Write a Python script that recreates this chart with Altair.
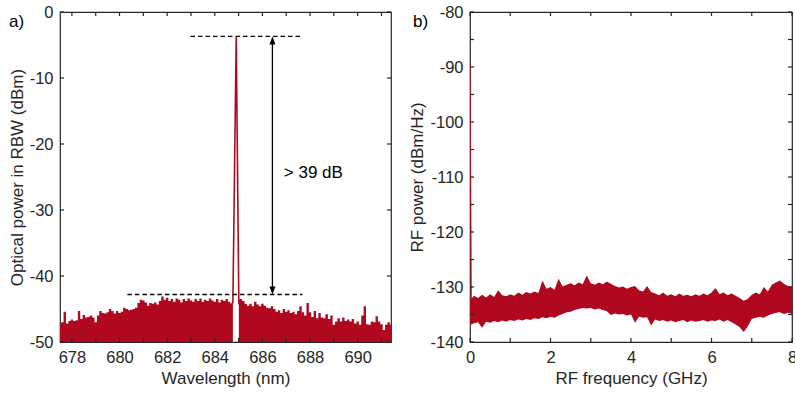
import altair as alt
import pandas as pd

RED = "#b0081f"
AX = "#262626"
FONT = "Liberation Sans"

# ---------------- panel a) optical spectrum ----------------
wl_left_start = 677.5   # 0.1 nm grid
power_left = [
    -47.2, -47.0, -45.4, -47.2, -46.8, -46.6, -46.8, -46.7, -45.3, -46.5,
    -45.9, -46.3, -46.2, -46.0, -46.3, -47.0, -46.0, -45.3, -45.6, -45.7,
    -45.5, -45.0, -45.3, -45.7, -45.3, -45.6, -45.4, -44.8, -45.0, -45.2,
    -45.1, -45.0, -44.8, -44.1, -43.6, -43.7, -44.0, -44.5, -44.1, -44.2,
    -44.0, -44.3, -43.8, -43.1, -43.6, -43.3, -43.8, -43.5, -43.9, -43.4,
    -43.6, -44.0, -43.5, -43.8, -43.4, -43.7, -43.9, -43.5, -43.8, -43.4,
    -43.9, -43.6, -43.8, -43.4, -43.7, -43.9, -43.5, -44.0, -43.6, -43.8,
    -43.5, -43.9, -44.2,
]
wl_right_start = 685.1
power_right = [
    -43.5, -43.8, -44.2, -44.5, -44.2, -44.6, -43.9, -44.3, -44.6, -44.2,
    -44.5, -44.8, -44.9, -44.6, -45.0, -45.4, -45.2, -45.6, -45.0, -45.4,
    -45.2, -45.6, -45.4, -45.8, -45.3, -44.6, -45.5, -46.0, -44.1, -45.5,
    -46.2, -45.3, -46.4, -45.6, -46.3, -46.4, -45.8, -46.5, -46.0, -47.4,
    -46.9, -46.4, -46.9, -46.3, -46.8, -46.6, -46.9, -46.5, -47.2, -46.9,
    -47.4, -46.0, -44.6, -47.3, -47.4, -46.9, -47.0, -46.1, -46.9, -47.3,
    -48.2, -47.4, -47.0, -47.4,
]
notch_wl = [684.76, 685.01]
notch_power = [-44.0, -44.0]
peak_wl = [684.70, 684.76, 684.90, 685.01, 685.10]
peak_power = [-44.2, -44.0, -3.8, -44.0, -43.5]

dash_start = [682.98, 680.33]
dash_end = [687.68, 687.68]
dash_level = [-3.7, -42.8]
arrow_wl = [686.42]
arrow_top = [-3.7]
arrow_bottom = [-42.8]
label_text = ["> 39 dB"]
label_wl = [686.9]
label_power = [-24.4]

xticks_a = list(range(678, 692))
xlabels_a = [678, 680, 682, 684, 686, 688, 690]
yticks_a = [-50, -40, -30, -20, -10, 0]

# ---------------- panel b) RF spectrum ----------------
freq_step = 0.1
rf_upper = [
    -132.4, -131.6, -132.0, -131.4, -131.9, -131.3, -131.8, -130.6, -131.5, -131.7,
    -131.3, -131.6, -131.0, -131.4, -130.9, -131.2, -130.8, -131.1, -128.8, -130.3,
    -130.0, -130.5, -128.5, -129.9, -129.6, -129.3, -129.7, -129.2, -129.5, -127.9,
    -129.3, -129.6, -129.2, -129.5, -129.0, -129.4, -129.8, -130.1, -129.9, -130.3,
    -130.0, -129.8, -130.6, -130.8, -129.8, -130.9, -131.2, -131.5, -131.0, -131.6,
    -131.3, -131.7, -131.2, -131.6, -131.4, -131.7, -131.3, -131.6, -131.2, -131.5,
    -131.0, -130.2, -131.3, -131.0, -131.5, -131.2, -131.6, -132.0, -132.5, -132.2,
    -131.4, -131.0, -131.3, -130.0, -130.8, -129.6, -129.2, -128.8, -129.4, -129.8,
    -130.0,
]
rf_lower = [
    -136.9, -136.6, -136.4, -137.4, -136.3, -136.5, -136.2, -136.4, -136.1, -136.3,
    -136.0, -136.2, -135.9, -136.1, -135.8, -136.0, -135.7, -135.8, -135.5, -135.7,
    -135.4, -135.6, -135.2, -134.9, -134.6, -134.5, -134.2, -134.0, -133.8, -133.9,
    -133.8, -134.1, -133.9, -134.2, -134.4, -135.1, -134.8, -135.0, -134.9, -135.2,
    -135.0, -136.5, -135.4, -135.6, -135.5, -137.0, -135.9, -136.2, -136.0, -136.3,
    -136.1, -136.4, -136.2, -136.0, -136.4, -136.1, -136.3, -136.2, -136.0, -136.3,
    -136.1, -136.2, -135.9, -136.3, -136.0, -136.4, -136.8, -137.3, -138.2, -137.2,
    -135.8, -135.6, -135.4, -135.6, -135.2, -134.9, -134.7, -134.6, -134.9, -134.7,
    -134.9,
]
dc_freq = [0.0, 0.03]
dc_power = [-89.5, -133.0]

xticks_b = list(range(0, 9))
xlabels_b = [0, 2, 4, 6, 8]
yticks_b = list(range(-140, -79, 5))
ylabels_b = [-140, -130, -120, -110, -100, -90, -80]

W1, W2, H = 331, 322, 330
TICK = 4

# ---------------- build tables ----------------
wl_l = [round(wl_left_start + 0.1 * i, 2) for i in range(len(power_left))] + [notch_wl[0]]
p_l = power_left + [notch_power[0]]
wl_r = [notch_wl[1]] + [round(wl_right_start + 0.1 * i, 2) for i in range(len(power_right))]
p_r = [notch_power[1]] + power_right
df_noise = pd.DataFrame({
    "wl": wl_l + wl_r,
    "p": p_l + p_r,
    "seg": ["L"] * len(wl_l) + ["R"] * len(wl_r),
})
df_peak = pd.DataFrame({"wl": peak_wl, "p": peak_power})
df_dash = pd.DataFrame({"wl": dash_start, "wl2": dash_end, "p": dash_level})
df_arrow = pd.DataFrame({"wl": arrow_wl, "p": [arrow_top[0] - 0.8], "p2": [arrow_bottom[0] + 0.8]})
df_head_top = pd.DataFrame({"wl": arrow_wl, "p": arrow_top})
df_head_bot = pd.DataFrame({"wl": arrow_wl, "p": arrow_bottom})
df_label = pd.DataFrame({"wl": label_wl, "p": label_power, "t": label_text})
df_xt_a = pd.DataFrame({"wl": xticks_a})
df_yt_a = pd.DataFrame({"p": yticks_a})

freqs = [round(freq_step * i, 2) for i in range(len(rf_upper))]
df_rf = pd.DataFrame({"f": freqs, "p": rf_upper, "p2": rf_lower})
df_dc = pd.DataFrame({"f": dc_freq, "p": dc_power})
df_xt_b = pd.DataFrame({"f": xticks_b})
df_yt_b = pd.DataFrame({"p": yticks_b})


def tick_layers(dfx, xf, dfy, yf, W):
    base_x = alt.Chart(dfx).mark_rule(color=AX, strokeWidth=1.2)
    base_y = alt.Chart(dfy).mark_rule(color=AX, strokeWidth=1.2)
    return [
        base_x.encode(x=alt.X(f"{xf}:Q"), y=alt.value(H), y2=alt.value(H - TICK)),
        base_x.encode(x=alt.X(f"{xf}:Q"), y=alt.value(0), y2=alt.value(TICK)),
        base_y.encode(y=alt.Y(f"{yf}:Q"), x=alt.value(0), x2=alt.value(TICK)),
        base_y.encode(y=alt.Y(f"{yf}:Q"), x=alt.value(W), x2=alt.value(W - TICK)),
    ]


def panel_label(txt, dx):
    return alt.Chart(pd.DataFrame({"t": [txt]})).mark_text(
        align="left", baseline="middle", font=FONT, fontSize=17, color="black"
    ).encode(x=alt.value(dx), y=alt.value(10), text="t:N")


lab = "'' + datum.value"

# ---------------- panel a ----------------
xa = alt.X("wl:Q", scale=alt.Scale(domain=[677.5, 691.4], nice=False, zero=False),
           axis=alt.Axis(values=xlabels_a, title="Wavelength (nm)", labelExpr=lab,
                         tickSize=0, labelPadding=7, titlePadding=5))
ya = alt.Y("p:Q", scale=alt.Scale(domain=[-50, 0], nice=False, zero=False),
           axis=alt.Axis(values=yticks_a, title="Optical power in RBW (dBm)", labelExpr=lab,
                         tickSize=0, labelPadding=7, titlePadding=3))

noise = alt.Chart(df_noise).mark_area(color=RED, opacity=1, clip=True, interpolate="step").encode(
    x=xa, y=ya, y2=alt.datum(-50), detail="seg:N")
peak = alt.Chart(df_peak).mark_line(color=RED, strokeWidth=1.6, clip=True).encode(
    x="wl:Q", y="p:Q")
dashes = alt.Chart(df_dash).mark_rule(color="black", strokeWidth=1.3, strokeDash=[4.5, 3]).encode(
    x="wl:Q", x2="wl2:Q", y="p:Q")
shaft = alt.Chart(df_arrow).mark_rule(color="black", strokeWidth=1.3).encode(
    x="wl:Q", y="p:Q", y2="p2:Q")
head_top = alt.Chart(df_head_top).mark_point(
    shape="M0,-1L0.75,1L-0.75,1Z", filled=True, color="black", opacity=1, size=64, yOffset=4
).encode(x="wl:Q", y="p:Q")
head_bot = alt.Chart(df_head_bot).mark_point(
    shape="M0,1L0.75,-1L-0.75,-1Z", filled=True, color="black", opacity=1, size=64, yOffset=-4
).encode(x="wl:Q", y="p:Q")
label = alt.Chart(df_label).mark_text(
    align="left", baseline="middle", font=FONT, fontSize=17, color="black"
).encode(x="wl:Q", y="p:Q", text="t:N")

left = alt.layer(
    noise, peak, dashes, shaft, head_top, head_bot, label,
    *tick_layers(df_xt_a, "wl", df_yt_a, "p", W1),
    panel_label("a)", -51),
).properties(width=W1, height=H)

# ---------------- panel b ----------------
xb = alt.X("f:Q", scale=alt.Scale(domain=[0, 8], nice=False, zero=False),
           axis=alt.Axis(values=xlabels_b, title="RF frequency (GHz)", labelExpr=lab,
                         tickSize=0, labelPadding=7, titlePadding=5))
yb = alt.Y("p:Q", scale=alt.Scale(domain=[-140, -80], nice=False, zero=False),
           axis=alt.Axis(values=ylabels_b, title="RF power (dBm/Hz)", labelExpr=lab,
                         tickSize=0, labelPadding=7, titlePadding=3))

band = alt.Chart(df_rf).mark_area(color=RED, opacity=1, clip=True).encode(
    x=xb, y=yb, y2="p2:Q")
dc = alt.Chart(df_dc).mark_line(color=RED, strokeWidth=1.2, clip=True).encode(
    x="f:Q", y="p:Q")

right = alt.layer(
    band, dc,
    *tick_layers(df_xt_b, "f", df_yt_b, "p", W2),
    panel_label("b)", -57),
).properties(width=W2, height=H)

chart = alt.hconcat(left, right, spacing=79, bounds="flush").properties(
    padding={"left": 60, "top": 12, "right": 735, "bottom": 381},
    autosize=alt.AutoSizeParams(type="none"),
).configure_view(
    stroke=AX, strokeWidth=1.2
).configure_axis(
    labelFont=FONT, labelFontSize=16.5, labelColor=AX,
    titleFont=FONT, titleFontSize=17, titleColor=AX, titleFontWeight="normal",
    grid=False, domain=False, ticks=False, labelFlush=False, labelOverlap=False,
)

chart.save("out.html", embed_options={"renderer": "svg", "actions": False})
